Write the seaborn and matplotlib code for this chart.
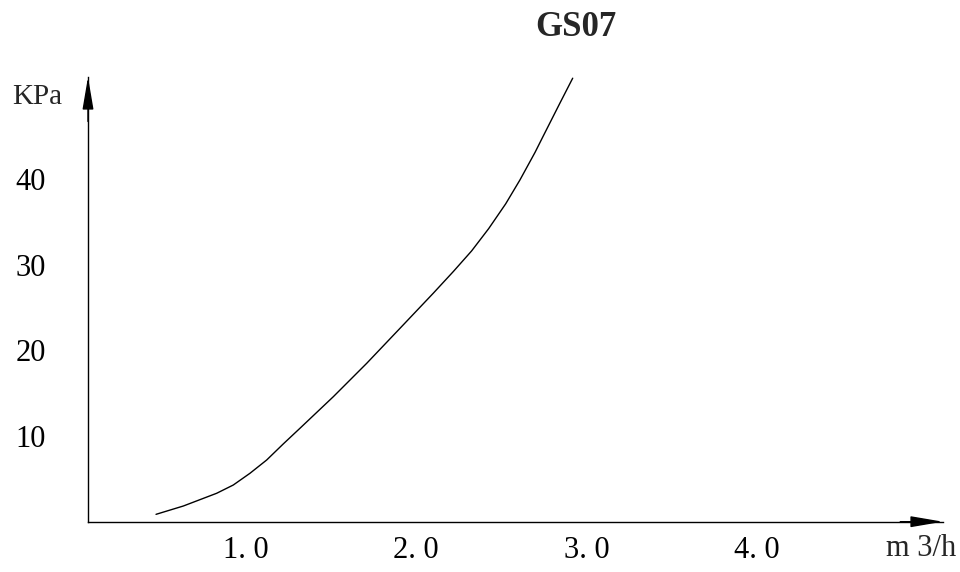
import matplotlib
matplotlib.use("Agg")
import matplotlib.pyplot as plt
import matplotlib.transforms as mtransforms
import seaborn as sns
import pandas as pd

# flow (m3/h) vs pressure drop (KPa)
flow = [0.399, 0.559, 0.755, 0.852, 0.950, 1.048, 1.145, 1.243, 1.439, 1.635,
        1.830, 2.025, 2.143, 2.25, 2.35, 2.45, 2.534, 2.622, 2.670, 2.768, 2.843]
kpa = [0.86, 1.83, 3.32, 4.28, 5.65, 7.20, 9.07, 10.90, 14.59, 18.49,
       22.57, 26.66, 29.2, 31.6, 34.2, 37.1, 39.9, 43.1, 45.0, 48.85, 51.76]

x_ticks = [1.0, 2.0, 3.0, 4.0]
x_labels = ["1. 0", "2. 0", "3. 0", "4. 0"]
y_ticks = [10, 20, 30, 40]
y_labels = ["10", "20", "30", "40"]

sns.set_style("white")
plt.rcParams["font.family"] = ["Liberation Serif", "DejaVu Serif"]

df = pd.DataFrame({"flow": flow, "kpa": kpa})

fig = plt.figure(figsize=(9.6, 5.72), dpi=100)
ax = fig.add_axes([88 / 960, 1 - 521.7 / 572, 855 / 960, 444.7 / 572])

sns.lineplot(data=df, x="flow", y="kpa", sort=False, color="black",
             linewidth=1.0, ax=ax)

ax.set_xlim(0, 5.015)
ax.set_ylim(0, 51.9)
ax.set_xlabel("")
ax.set_ylabel("")

for s in ["top", "right"]:
    ax.spines[s].set_visible(False)
for s in ["left", "bottom"]:
    ax.spines[s].set_color("black")
    ax.spines[s].set_linewidth(1.0)

ax.set_xticks(x_ticks)
ax.set_xticklabels(x_labels)
ax.set_yticks(y_ticks)
ax.set_yticklabels(y_labels)
ax.tick_params(axis="x", direction="inout", length=4.5, width=0.8,
               labelsize=22, pad=8, colors="black")
ax.tick_params(axis="y", direction="inout", length=8.6, width=0.8,
               labelsize=22, pad=26, colors="black")

# shift x labels a little to the left like the original
offset = mtransforms.ScaledTranslation(-13 / 100, 0, fig.dpi_scale_trans)
for lbl in ax.get_xticklabels():
    lbl.set_transform(lbl.get_transform() + offset)

# arrow heads on the axes
arrow = dict(arrowstyle="-|>,head_length=1.0,head_width=0.17",
             mutation_scale=20, color="black", lw=1.0, shrinkA=0, shrinkB=0)
ax.annotate("", xy=(1, 0), xytext=(0.95, 0), xycoords="axes fraction",
            arrowprops=arrow, annotation_clip=False)
ax.annotate("", xy=(0, 1), xytext=(0, 0.9), xycoords="axes fraction",
            arrowprops=arrow, annotation_clip=False)

fig.text(12 / 960, 1 - 97 / 572, "KPa", fontsize=21, ha="left", va="center")
fig.text(956 / 960, 1 - 549 / 572, "m 3/h", fontsize=22, ha="right", va="center")
fig.text(576 / 960, 1 - 27 / 572, "GS07", fontsize=25, fontweight="bold",
         ha="center", va="center")

fig.savefig("out.png", dpi=100)
